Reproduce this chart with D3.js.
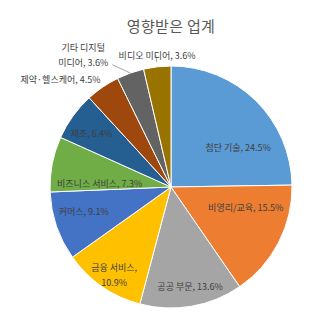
<!DOCTYPE html>
<html>
<head>
<meta charset="utf-8">
<script src="https://cdn.jsdelivr.net/npm/d3@7"></script>
<style>
    body { margin: 0; background: #fff; }
    text { font-family: "Noto Sans CJK KR", "Noto Sans", sans-serif; }
</style>
</head>
<body>
<div id="chart"></div>
<script>
var categories = ["첨단 기술", "비영리/교육", "공공 부문", "금융 서비스", "커머스",
    "비즈니스 서비스", "제조", "제약·헬스케어", "기타 디지털\n미디어", "비디오 미디어"];
var values = [24.5, 15.5, 13.6, 10.9, 9.1, 7.3, 6.4, 4.5, 3.6, 3.6];
var colors = ["#5b9bd5", "#ed7d31", "#a5a5a5", "#ffc000", "#4472c4",
    "#70ad47", "#255e91", "#9e480e", "#636363", "#997300"];

// label placement, Excel "best fit" look: radius fraction + angle nudge (degrees)
var labelFrac = [0.64, 0.64, 0.84, 0.87, 0.75, 0.59, 0.79, 1.27, 1.31, 1.09];
var labelShift = [15.5, -12, -1, -2, 3, -8, -2, -11.6, -14, 0.5];
var wrapValue = [false, false, false, true, false, false, false, false, false, false];

(function () {
    var width = 318, height = 313;
    var cx = 171, cy = 187, r = 121;

    var svg = d3.select("#chart").append("svg")
        .attr("width", width)
        .attr("height", height);

    svg.append("text")
        .attr("x", cx)
        .attr("y", 32)
        .attr("text-anchor", "middle")
        .attr("fill", "#595959")
        .style("font-size", "15px")
        .style("letter-spacing", "0.3px")
        .text("영향받은 업계");

    var rows = categories.map(function (c, i) { return {name: c, value: values[i], i: i}; });

    var pie = d3.pie().sort(null).value(function (d) { return d.value; });
    var arc = d3.arc().innerRadius(0).outerRadius(r);
    var arcs = pie(rows);

    var g = svg.append("g").attr("transform", "translate(" + cx + "," + cy + ")");

    g.selectAll("path.slice")
        .data(arcs)
        .enter().append("path")
        .attr("class", "slice")
        .attr("d", arc)
        .attr("fill", function (d) { return colors[d.data.i]; })
        .attr("stroke", "#fff")
        .attr("stroke-width", 1);

    function polar(a, rad) { return [rad * Math.sin(a), -rad * Math.cos(a)]; }
    function mid(d) { return (d.startAngle + d.endAngle) / 2; }

    // leader lines for outside labels
    var leaders = [
        {i: 8, from: [-6, 1.12], to: [0, 1.0]},
        {i: 9, from: [0, 1.1], to: [0, 1.04]}
    ];
    leaders.forEach(function (l) {
        var d = arcs[l.i];
        var p0 = polar(mid(d) + l.from[0] * Math.PI / 180, r * l.from[1]);
        var p1 = polar(mid(d) + l.to[0] * Math.PI / 180, r * l.to[1]);
        g.append("line")
            .attr("x1", p0[0]).attr("y1", p0[1])
            .attr("x2", p1[0]).attr("y2", p1[1])
            .attr("stroke", "#a6a6a6")
            .attr("stroke-width", 1);
    });

    var labels = g.selectAll("text.lbl")
        .data(arcs)
        .enter().append("text")
        .attr("class", "lbl")
        .attr("text-anchor", "middle")
        .attr("fill", "#404040")
        .style("font-size", "9px")
        .attr("transform", function (d) {
            var i = d.data.i;
            var p = polar(mid(d) + labelShift[i] * Math.PI / 180, r * labelFrac[i]);
            return "translate(" + p[0] + "," + p[1] + ")";
        });

    labels.each(function (d) {
        var i = d.data.i;
        var txt = d.data.name + ", " + d.data.value.toFixed(1) + "%";
        var lines = wrapValue[i] ? [d.data.name + ",", d.data.value.toFixed(1) + "%"] : txt.split("\n");
        var lh = 15;
        var y0 = -(lines.length - 1) * lh / 2;
        var t = d3.select(this);
        lines.forEach(function (s, k) {
            t.append("tspan")
                .attr("x", 0)
                .attr("y", y0 + k * lh)
                .attr("dy", "0.35em")
                .text(s);
        });
    });
}());
</script>
</body>
</html>
